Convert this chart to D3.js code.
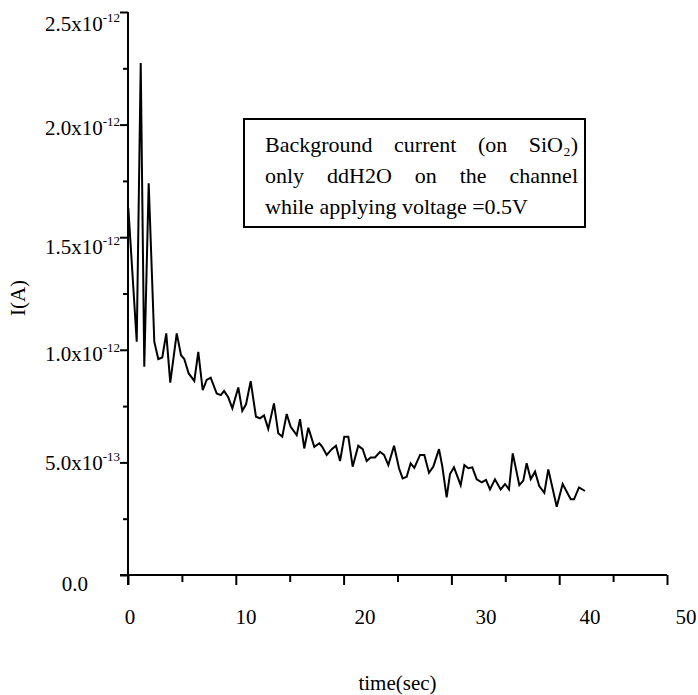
<!DOCTYPE html>
<html>
<head>
<meta charset="utf-8">
<script src="https://cdn.jsdelivr.net/npm/d3@7"></script>
<style>
  html, body { margin: 0; padding: 0; background: #fff; }
  svg text { font-family: "Liberation Serif", "DejaVu Serif", serif; fill: #000; }
</style>
</head>
<body>
<div id="chart"></div>
<script>
// time (s) of each vertex of the trace
const time = [0.03, 0.81, 1.18, 1.51, 1.92, 2.44, 2.81, 3.18, 3.55, 3.92,
  4.52, 4.92, 5.22, 5.63, 6.15, 6.52, 6.93, 7.30, 7.67, 8.23,
  8.60, 8.91, 9.30, 9.68, 10.23, 10.60, 10.95, 11.38, 11.87, 12.24,
  12.62, 13.01, 13.54, 13.94, 14.31, 14.72, 15.09, 15.65, 15.96, 16.35,
  16.73, 17.28, 17.75, 18.02, 18.43, 18.90, 19.29, 19.67, 20.06, 20.44,
  20.84, 21.36, 21.77, 22.14, 22.51, 22.91, 23.38, 23.75, 24.15, 24.68,
  25.14, 25.48, 25.85, 26.22, 26.56, 27.09, 27.49, 27.92, 28.32, 28.85,
  29.16, 29.56, 29.87, 30.24, 30.86, 31.20, 31.57, 31.94, 32.35, 32.81,
  33.21, 33.58, 34.04, 34.57, 34.97, 35.34, 35.69, 36.30, 36.67, 36.98,
  37.36, 37.76, 38.15, 38.62, 38.99, 39.77, 40.32, 41.07, 41.37, 41.84,
  42.39];

// current in units of 1e-13 A
const current = [16.29, 10.36, 22.74, 9.25, 17.39, 10.36, 9.59, 9.66, 10.73, 8.54,
  10.73, 9.76, 9.59, 8.95, 8.62, 9.91, 8.21, 8.66, 8.76, 8.06,
  7.99, 8.17, 7.89, 7.40, 8.33, 7.29, 7.58, 8.61, 7.03, 6.96,
  7.09, 6.49, 7.62, 6.29, 6.14, 7.15, 6.58, 6.21, 6.92, 5.62,
  6.54, 5.69, 5.85, 5.69, 5.33, 5.59, 5.74, 5.06, 6.14, 6.14,
  4.81, 5.74, 5.59, 5.06, 5.22, 5.22, 5.47, 5.33, 4.88, 5.74,
  4.74, 4.29, 4.36, 4.96, 4.76, 5.33, 5.33, 4.54, 4.81, 5.59,
  4.81, 3.45, 4.48, 4.78, 3.99, 4.88, 4.74, 4.78, 4.25, 4.11,
  4.22, 3.80, 4.25, 3.80, 4.04, 3.80, 5.40, 3.99, 4.19, 4.96,
  4.26, 4.59, 3.95, 3.65, 4.69, 3.03, 4.04, 3.36, 3.36, 3.89,
  3.73];

// tick labels
const xTickValues = [0, 10, 20, 30, 40, 50];
const yTickValues = [0, 5, 10, 15, 20, 25];
const yTickMantissa = ["0.0", "5.0x10", "1.0x10", "1.5x10", "2.0x10", "2.5x10"];
const yTickExponent = ["", "-13", "-12", "-12", "-12", "-12"];

const boxLines = [
  ["Background", "current", "(on", "SiO\u2082)"],
  ["only", "ddH2O", "on", "the", "channel"],
  ["while", "applying", "voltage", "=0.5V"]
];

const W = 698, H = 695;

const svg = d3.select("#chart").append("svg")
  .attr("width", W)
  .attr("height", H);

// scales
const x = d3.scaleLinear().domain([0, 50]).range([128, 667]);
const y = d3.scaleLinear().domain([0, 25]).range([575, 12]);

// the printed tick labels do not sit exactly on the ticks in the original
const xLabelPos = d3.scaleLinear().domain([0, 10, 20, 30, 40, 50]).range([130, 246, 365, 486, 590, 686]);
const yLabelPos = d3.scaleLinear().domain([0, 5, 10, 15, 20, 25]).range([584, 463, 354, 247, 128, 24]);

// X axis ticks
svg.append("g")
  .attr("transform", "translate(0," + y(0) + ")")
  .call(d3.axisBottom(x).tickValues(d3.range(0, 51, 10)).tickSize(10).tickFormat("").tickSizeOuter(0))
  .call(g => g.select(".domain").remove());
svg.append("g")
  .attr("transform", "translate(0," + y(0) + ")")
  .call(d3.axisBottom(x).tickValues(d3.range(5, 50, 10)).tickSize(7).tickFormat("").tickSizeOuter(0))
  .call(g => g.select(".domain").remove());

// Y axis ticks
svg.append("g")
  .attr("transform", "translate(" + x(0) + ",0)")
  .call(d3.axisLeft(y).tickValues(yTickValues).tickSize(8).tickFormat("").tickSizeOuter(0))
  .call(g => g.select(".domain").remove());
svg.append("g")
  .attr("transform", "translate(" + x(0) + ",0)")
  .call(d3.axisLeft(y).tickValues(d3.range(2.5, 25, 5)).tickSize(5).tickFormat("").tickSizeOuter(0))
  .call(g => g.select(".domain").remove());

svg.selectAll(".tick line").attr("stroke", "#000").attr("stroke-width", 2);

// axis lines
svg.append("line")
  .attr("x1", x(0) - 8).attr("x2", x(50))
  .attr("y1", y(0)).attr("y2", y(0))
  .attr("stroke", "#000").attr("stroke-width", 2);
svg.append("line")
  .attr("x1", x(0)).attr("x2", x(0))
  .attr("y1", y(25)).attr("y2", y(0) + 10)
  .attr("stroke", "#000").attr("stroke-width", 2);

// x tick labels
svg.selectAll(".xlab")
  .data(xTickValues)
  .enter()
  .append("text")
  .attr("class", "xlab")
  .attr("x", d => xLabelPos(d))
  .attr("y", 624)
  .attr("text-anchor", "middle")
  .style("font-size", "21px")
  .text(d => d);

// y tick labels
const yl = svg.selectAll(".ylab")
  .data(yTickValues)
  .enter()
  .append("text")
  .attr("class", "ylab")
  .attr("x", (d, i) => yTickExponent[i] ? 120 : 88)
  .attr("y", d => yLabelPos(d) + 7)
  .attr("text-anchor", "end")
  .style("font-size", "21px");
yl.append("tspan").text((d, i) => yTickMantissa[i]);
yl.append("tspan")
  .attr("dy", -9)
  .style("font-size", "13px")
  .text((d, i) => yTickExponent[i]);

// axis titles
svg.append("text")
  .attr("x", (x(0) + x(50)) / 2)
  .attr("y", 690)
  .attr("text-anchor", "middle")
  .style("font-size", "21px")
  .text("time(sec)");

svg.append("text")
  .attr("transform", "translate(25,298) rotate(-90)")
  .attr("text-anchor", "middle")
  .style("font-size", "21px")
  .text("I(A)");

// data line
const line = d3.line()
  .x((d, i) => x(time[i]))
  .y(d => y(d));

svg.append("path")
  .datum(current)
  .attr("d", line)
  .attr("fill", "none")
  .attr("stroke", "#000")
  .attr("stroke-width", 2);

// annotation box
const box = { x0: 244, y0: 119, x1: 585, y1: 227 };
svg.append("rect")
  .attr("x", box.x0).attr("y", box.y0)
  .attr("width", box.x1 - box.x0).attr("height", box.y1 - box.y0)
  .attr("fill", "#fff")
  .attr("stroke", "#000")
  .attr("stroke-width", 2);

const textLeft = 265, textRight = 578;
const baselines = [152, 183, 214];
boxLines.forEach((words, li) => {
  const nodes = words.map(w => svg.append("text")
    .attr("y", baselines[li])
    .style("font-size", "22px")
    .text(w));
  const widths = nodes.map(n => n.node().getComputedTextLength());
  const justify = li < boxLines.length - 1;
  const total = d3.sum(widths);
  const gap = justify ? (textRight - textLeft - total) / (words.length - 1) : 5.5;
  let cx = textLeft;
  nodes.forEach((n, i) => {
    n.attr("x", cx);
    cx += widths[i] + gap;
  });
});
</script>
</body>
</html>
